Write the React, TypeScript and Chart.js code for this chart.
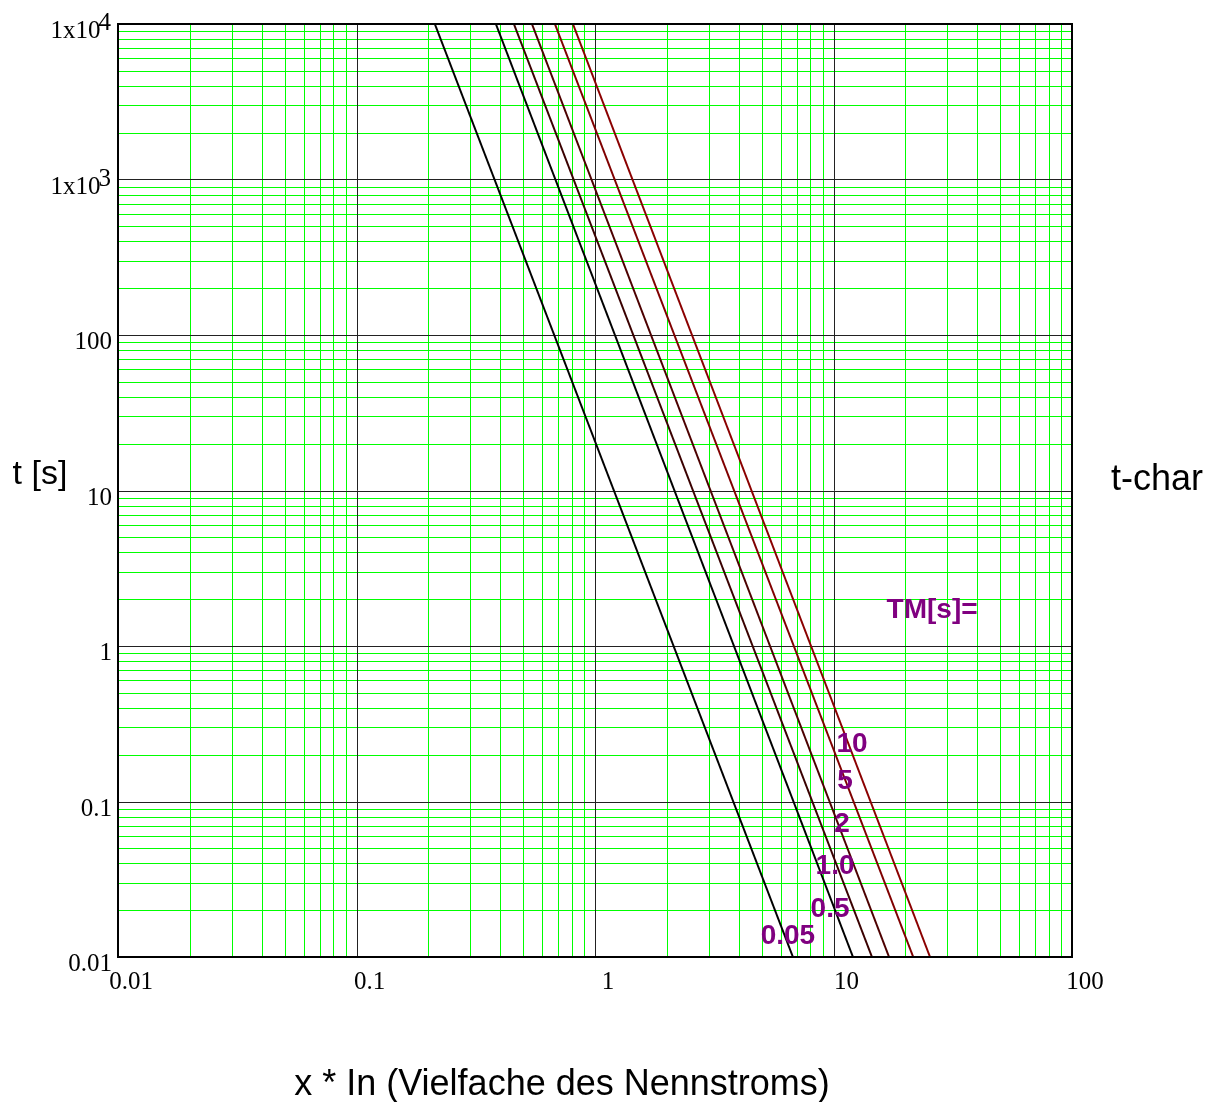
import React, { useEffect, useRef } from 'react';
import { Chart, registerables } from 'chart.js';

Chart.register(...registerables);

// TM curves (straight lines on log-log), read at top (t = 1e4) and bottom (t = 0.01) of the plot
const tmLabels = ['0.05', '0.5', '1.0', '2', '5', '10'];
const xAtTop = [0.213, 0.384, 0.457, 0.544, 0.679, 0.808];
const xAtBottom = [6.76, 12.07, 14.5, 17.1, 21.6, 25.4];
const tTop = 1e4;
const tBottom = 0.01;
const lineColors = ['#000000', '#000000', '#3a0000', '#4d0000', '#800000', '#8b0000'];

// Curve annotation positions (data coordinates)
const tmLabelX = [6.44, 9.67, 10.15, 10.86, 11.18, 11.96];
const tmLabelY = [0.0138, 0.0207, 0.0391, 0.0728, 0.1375, 0.238];
const tmHeader = 'TM[s]=';
const tmHeaderX = 25.9;
const tmHeaderY = 1.73;

// Axes
const xMin = 0.01;
const xMax = 100;
const yMin = 0.01;
const yMax = 1e4;
const xTickValues = [0.01, 0.1, 1, 10, 100];
const xTickLabels = ['0.01', '0.1', '1', '10', '100'];
const yTickValues = [1e4, 1e3, 100, 10, 1, 0.1, 0.01];
const yTickLabels = ['1x10^4', '1x10^3', '100', '10', '1', '0.1', '0.01'];
const minorMultipliers = [2, 3, 4, 5, 6, 7, 8, 9];

const yTitle = 't [s]';
const rightTitle = 't-char';
const xTitle = 'x * In (Vielfache des Nennstroms)';

function decades(min: number, max: number) {
  const out: number[] = [];
  const e0 = Math.round(Math.log10(min));
  const e1 = Math.round(Math.log10(max));
  for (let e = e0; e <= e1; e++) out.push(Math.pow(10, e));
  return out;
}

const gridPlugin = {
  id: 'logGrid',
  beforeDatasetsDraw(chart: any) {
    const { ctx, chartArea: a, scales } = chart;
    const x = scales.x;
    const y = scales.y;
    ctx.save();
    ctx.lineWidth = 1;
    // minor lines
    ctx.strokeStyle = '#00ff00';
    ctx.beginPath();
    decades(xMin, xMax).slice(0, -1).forEach((d) => {
      minorMultipliers.forEach((m) => {
        const px = Math.round(x.getPixelForValue(d * m)) + 0.5;
        ctx.moveTo(px, a.top);
        ctx.lineTo(px, a.bottom);
      });
    });
    decades(yMin, yMax).slice(0, -1).forEach((d) => {
      minorMultipliers.forEach((m) => {
        const py = Math.round(y.getPixelForValue(d * m)) + 0.5;
        ctx.moveTo(a.left, py);
        ctx.lineTo(a.right, py);
      });
    });
    ctx.stroke();
    // major lines
    ctx.strokeStyle = '#222222';
    ctx.beginPath();
    decades(xMin, xMax).forEach((d) => {
      const px = Math.round(x.getPixelForValue(d)) + 0.5;
      ctx.moveTo(px, a.top);
      ctx.lineTo(px, a.bottom);
    });
    decades(yMin, yMax).forEach((d) => {
      const py = Math.round(y.getPixelForValue(d)) + 0.5;
      ctx.moveTo(a.left, py);
      ctx.lineTo(a.right, py);
    });
    ctx.stroke();
    ctx.restore();
  },
};

const textPlugin = {
  id: 'customText',
  afterDraw(chart: any) {
    const { ctx, chartArea: a, scales } = chart;
    const x = scales.x;
    const y = scales.y;
    ctx.save();
    // frame
    ctx.strokeStyle = '#000000';
    ctx.lineWidth = 2;
    ctx.strokeRect(a.left, a.top, a.right - a.left, a.bottom - a.top);

    // y tick labels
    ctx.fillStyle = '#000000';
    ctx.font = '25px "Liberation Serif", "Times New Roman", serif';
    ctx.textBaseline = 'alphabetic';
    ctx.textAlign = 'right';
    yTickValues.forEach((v, i) => {
      const py = y.getPixelForValue(v) + 14;
      const parts = yTickLabels[i].split('^');
      if (parts.length > 1) {
        const expRight = a.left - 7;
        ctx.fillText(parts[1], expRight, py - 8);
        const w = ctx.measureText(parts[1]).width;
        ctx.fillText(parts[0], expRight - w + 2, py);
      } else {
        ctx.fillText(parts[0], a.left - 6, py);
      }
    });

    // x tick labels
    ctx.textAlign = 'center';
    xTickValues.forEach((v, i) => {
      const px = x.getPixelForValue(v) + 13;
      ctx.fillText(xTickLabels[i], px, a.bottom + 32);
    });

    // axis titles
    ctx.font = '34px "Liberation Sans", Arial, sans-serif';
    ctx.textAlign = 'center';
    ctx.textBaseline = 'middle';
    ctx.fillText(yTitle, 40, 475);
    ctx.textBaseline = 'alphabetic';
    ctx.font = '36px "Liberation Sans", Arial, sans-serif';
    ctx.fillText(rightTitle, 1157, 490);
    ctx.font = '36px "Liberation Sans", Arial, sans-serif';
    ctx.fillText(xTitle, 562, 1095);

    // TM annotations
    ctx.fillStyle = '#800080';
    ctx.font = 'bold 28px "Liberation Sans", Arial, sans-serif';
    ctx.textAlign = 'center';
    ctx.textBaseline = 'middle';
    tmLabels.forEach((lab, i) => {
      ctx.fillText(lab, x.getPixelForValue(tmLabelX[i]), y.getPixelForValue(tmLabelY[i]) + 1);
    });
    ctx.fillText(tmHeader, x.getPixelForValue(tmHeaderX), y.getPixelForValue(tmHeaderY) + 1);
    ctx.restore();
  },
};

export default function App() {
  const ref = useRef<HTMLCanvasElement | null>(null);

  useEffect(() => {
    if (!ref.current) return;
    const datasets = tmLabels.map((lab, i) => ({
      label: 'TM=' + lab,
      data: [
        { x: xAtTop[i], y: tTop },
        { x: xAtBottom[i], y: tBottom },
      ],
      borderColor: lineColors[i],
      backgroundColor: lineColors[i],
      borderWidth: 2,
      pointRadius: 0,
      tension: 0,
      fill: false,
    }));

    const chart = new Chart(ref.current, {
      type: 'line',
      data: { datasets },
      options: {
        animation: false,
        responsive: false,
        events: [],
        layout: { padding: { left: 118, top: 24, right: 146, bottom: 145 } },
        plugins: { legend: { display: false }, tooltip: { enabled: false } },
        scales: {
          x: {
            type: 'logarithmic',
            min: xMin,
            max: xMax,
            ticks: { display: false },
            grid: { display: false, drawTicks: false },
            border: { display: false },
          },
          y: {
            type: 'logarithmic',
            min: yMin,
            max: yMax,
            ticks: { display: false },
            grid: { display: false, drawTicks: false },
            border: { display: false },
          },
        },
      } as any,
      plugins: [gridPlugin, textPlugin],
    });
    return () => chart.destroy();
  }, []);

  return (
    <div style={{ position: 'fixed', left: 0, top: 0, width: 1218, height: 1102, background: '#ffffff' }}>
      <canvas ref={ref} width={1218} height={1102} style={{ display: 'block', width: 1218, height: 1102 }} />
    </div>
  );
}
